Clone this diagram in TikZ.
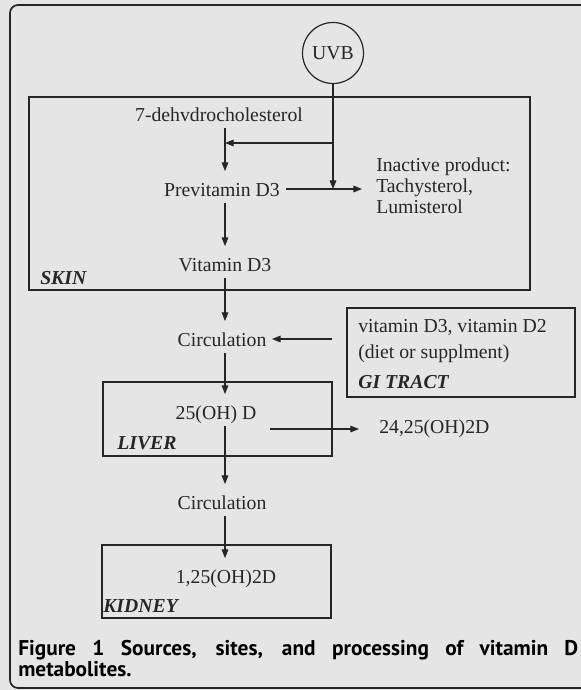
\documentclass[tikz,border=0pt]{standalone}
\usepackage{fontspec}
\setmainfont{Liberation Serif}
\newfontfamily\capfont{PT Sans}
\usetikzlibrary{arrows.meta}

\definecolor{scan}{gray}{0.9}
\definecolor{ink}{gray}{0.15}

\tikzset{
  lbl/.style={font=\fontsize{14.8}{16}\selectfont, inner sep=0pt, text height=10pt, text depth=3pt, text=ink},
  para/.style={inner sep=0pt, anchor=west, align=left, text=ink},
  site/.style={font=\fontsize{14.8}{16}\selectfont\bfseries\itshape, inner sep=0pt, anchor=west, text=ink},
  arr/.style={-{Triangle[length=6.5pt,width=5pt]}, line width=0.8pt, draw=ink},
  down/.style={arr, shorten <=1.5pt, shorten >=9pt},
  region/.style={line width=0.9pt, draw=ink},
}

\begin{document}
\begin{tikzpicture}[x=0.75pt,y=-0.75pt]
\useasboundingbox (0,0) rectangle (581,690);
\fill[scan] (0,0) rectangle (581,690);
\clip (0,0) rectangle (581,690);

% outer frame
\draw[line width=1.3pt, draw=ink, rounded corners=6pt] (10,5) rectangle (600,688);

% sites
\draw[region] (29,97) rectangle (530,290);
\draw[region] (347,308) rectangle (575,397);
\draw[region] (103,382) rectangle (332,456);
\draw[region] (102,545) rectangle (331,618);

\node[site] (skin) at (40,278) {SKIN};
\node[site] (gitract) at (358,382) {GI TRACT};
\node[site] (liver) at (117,443) {LIVER};
\node[site] (kidney) at (103,606) {KIDNEY};

% metabolites
\coordinate (ax) at (225,0);
\node[draw=ink, circle, line width=0.9pt, minimum size=45.75pt, inner sep=0pt,
      font=\fontsize{14.8}{16}\selectfont, text=ink] (uvb) at (333,53) {UVB};
\node[lbl] (dehydro) at (219,117) {7-dehvdrocholesterol};
\node[lbl] (previt) at (222,192) {Previtamin D3};
\node[para, font=\fontsize{14.8}{15.8}\selectfont] (inactive) at (376,186)
  {Inactive product:\\Tachysterol,\\Lumisterol};
\node[lbl] (vitd) at (225,267) {Vitamin D3};
\node[lbl] (circ1) at (222,342) {Circulation};
\node[para, font=\fontsize{14.8}{20}\selectfont] (diet) at (358,341)
  {vitamin D3, vitamin D2\\(diet or supplment)};
\node[lbl] (ohd) at (216,415) {25(OH) D};
\node[lbl, anchor=west] (dihyd) at (379,429) {24,25(OH)2D};
\node[lbl] (circ2) at (222,505) {Circulation};
\node[lbl] (calc) at (226,579) {1,25(OH)2D};

% UVB
\coordinate (jn) at (uvb |- 0,189);
\coordinate (br) at (uvb |- 0,143);
\draw[arr] (uvb) -- (jn);
\draw[arr] (br) -- (br -| ax);
\draw[arr, shorten <=4.5pt, shorten >=10.5pt] (previt.east |- jn) -- (inactive.west |- jn);

% main path
\draw[down] (dehydro.south -| ax) -- (previt.north -| ax);
\draw[down] (previt.south -| ax) -- (vitd.north -| ax);
\draw[down] (vitd.south -| ax) -- (circ1.north -| ax);
\draw[down] (circ1.south -| ax) -- (ohd.north -| ax);
\draw[down] (ohd.south -| ax) -- (circ2.north -| ax);
\draw[down] (circ2.south -| ax) -- (calc.north -| ax);

% side paths
\draw[arr, shorten <=19.5pt, shorten >=4pt] (diet.west |- 0,339) -- (circ1.east |- 0,339);
\draw[arr, shorten <=10pt, shorten >=15pt] (ohd.east |- dihyd.west) -- (dihyd.west);

% caption
\node[anchor=north west, text width=420pt, align=justify, inner sep=0pt, text=black,
      font=\capfont\bfseries\fontsize{16}{14.2}\selectfont] (caption) at (18,640)
  {Figure 1 Sources, sites, and processing of vitamin D\linebreak metabolites.};
\end{tikzpicture}
\end{document}
